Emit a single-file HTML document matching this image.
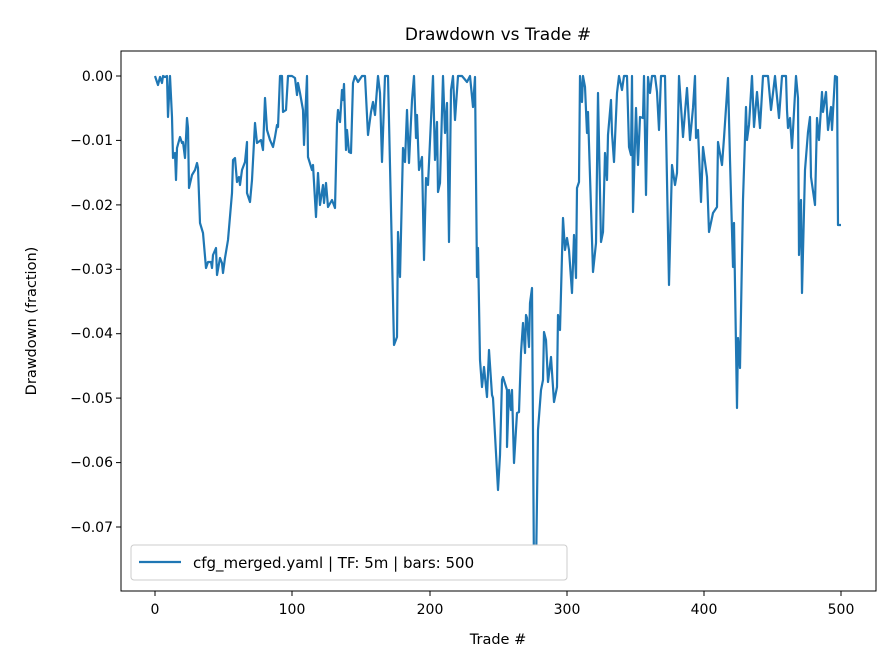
<!DOCTYPE html>
<html><head><meta charset="utf-8"><style>body{margin:0;background:#fff}svg{display:block}text{font-family:"DejaVu Sans","Liberation Sans",sans-serif;fill:#000}</style></head><body>
<svg width="896" height="672" viewBox="0 0 896 672" xmlns="http://www.w3.org/2000/svg">
<rect width="896" height="672" fill="#fff"/>
<text x="498" y="40" font-size="17" text-anchor="middle">Drawdown vs Trade #</text>
<g stroke="#000" stroke-width="1">
<line x1="155" y1="591" x2="155" y2="596"/><line x1="292" y1="591" x2="292" y2="596"/><line x1="430" y1="591" x2="430" y2="596"/><line x1="567" y1="591" x2="567" y2="596"/><line x1="704" y1="591" x2="704" y2="596"/><line x1="841" y1="591" x2="841" y2="596"/>
<line x1="116" y1="76" x2="121" y2="76"/><line x1="116" y1="140.4" x2="121" y2="140.4"/><line x1="116" y1="204.9" x2="121" y2="204.9"/><line x1="116" y1="269.3" x2="121" y2="269.3"/><line x1="116" y1="333.7" x2="121" y2="333.7"/><line x1="116" y1="398.1" x2="121" y2="398.1"/><line x1="116" y1="462.6" x2="121" y2="462.6"/><line x1="116" y1="527" x2="121" y2="527"/>
</g>
<g font-size="14" text-anchor="middle">
<text x="155" y="614">0</text><text x="292" y="614">100</text><text x="430" y="614">200</text><text x="567" y="614">300</text><text x="704" y="614">400</text><text x="841" y="614">500</text>
</g>
<g font-size="14" text-anchor="end">
<text x="113" y="81">0.00</text><text x="113" y="145">−0.01</text><text x="113" y="210">−0.02</text><text x="113" y="274">−0.03</text><text x="113" y="338">−0.04</text><text x="113" y="403">−0.05</text><text x="113" y="467">−0.06</text><text x="113" y="532">−0.07</text>
</g>
<text x="498" y="644" font-size="14.5" text-anchor="middle">Trade #</text>
<text x="0" y="0" font-size="14.5" text-anchor="middle" transform="translate(36,321) rotate(-90)">Drawdown (fraction)</text>
<polyline fill="none" stroke="#1f77b4" stroke-width="2.2" stroke-linejoin="round" points="155,76 158,85 160,77 162,83 163,76 165,77 167,76 168,117 170,76 172,117 173,158 175,153 176,180 177,148 180,137 182,143 183,142 185,158 187,118 188,128 189,188 192,175 195,170 197,163 198,168 200,223 203,233 206,268 208,262 211,262 212,268 213,255 216,248 217,275 220,258 222,263 223,273 225,258 228,240 232,193 233,160 235,158 237,182 239,177 240,185 242,170 245,162 247,142 247,193 250,202 252,180 255,123 257,143 261,140 263,150 265,98 267,130 270,140 273,147 275,137 277,125 278,127 280,76 282,76 283,112 286,110 288,76 292,76 295,78 297,95 298,83 300,93 303,110 304,145 307,76 308,157 312,170 313,165 316,217 318,173 320,205 323,185 324,203 326,183 328,207 332,200 335,208 337,123 338,110 340,122 342,90 343,100 344,84 346,150 347,130 349,152 351,153 353,83 355,76 358,82 362,76 365,76 368,135 371,112 373,102 375,115 378,76 380,93 382,162 385,76 388,76 394,345 397,337 398,232 400,277 403,148 405,162 407,110 409,163 412,100 414,76 416,138 417,115 419,170 422,157 424,260 426,178 428,185 433,76 435,160 437,122 438,192 440,183 443,76 445,133 447,103 449,242 451,90 453,76 455,120 458,76 462,76 467,82 470,76 473,107 475,77 477,277 478,248 480,360 482,387 484,367 487,397 489,350 492,395 493,398 498,490 500,455 502,380 503,377 507,390 507,447 509,390 511,410 512,390 514,463 517,413 519,412 521,353 523,323 525,353 526,315 527,318 529,347 530,303 532,288 534,575 536,570 538,430 541,390 543,380 544,332 546,340 548,382 551,357 554,402 557,387 558,315 560,330 563,218 565,250 567,238 569,250 572,293 574,235 576,278 577,188 579,182 580,76 582,102 583,76 585,87 587,133 588,112 593,272 596,243 598,93 601,242 603,232 605,153 607,180 608,135 611,100 612,133 614,162 617,93 619,76 622,90 624,76 627,76 629,147 631,155 632,76 633,212 636,108 638,165 640,117 643,118 644,76 646,195 648,77 650,93 652,76 655,76 657,92 659,130 661,76 665,76 669,285 672,165 675,185 677,173 679,76 683,137 687,88 690,140 693,108 695,76 696,138 698,130 701,202 703,147 707,177 709,232 713,213 717,207 718,142 722,165 724,138 728,78 730,160 733,267 734,223 737,408 738,338 740,368 743,200 746,107 747,140 749,125 752,76 754,127 757,92 760,128 763,76 768,76 771,110 775,76 779,118 782,76 786,76 787,110 788,128 790,118 792,148 796,76 798,98 799,255 801,200 802,293 805,170 808,132 810,117 811,177 815,205 817,118 819,140 822,92 823,112 826,92 828,130 831,107 832,130 835,76 837,77 838,225 841,225"/>
<rect x="121" y="51" width="755" height="540" fill="none" stroke="#000" stroke-width="1"/>
<rect x="131" y="545" width="436" height="35" rx="3" fill="#fff" stroke="#ccc" stroke-width="1"/>
<line x1="139" y1="562" x2="181" y2="562" stroke="#1f77b4" stroke-width="2.2"/>
<text x="193" y="568" font-size="15">cfg_merged.yaml | TF: 5m | bars: 500</text>
</svg>
</body></html>
